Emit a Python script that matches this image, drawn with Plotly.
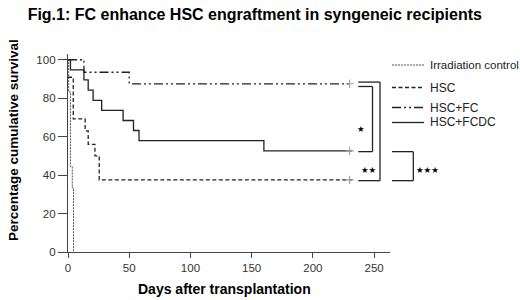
import plotly.graph_objects as go

# ---- data ----
irr_days = [0, 0.5, 2, 3.5, 4.5]
irr_surv = [100, 83.3, 44.4, 33.3, 0]

hsc_days = [0, 4.3, 14, 16.5, 22, 25.5, 232]
hsc_surv = [90.9, 69.2, 63.0, 56.0, 50.0, 37.5, 37.5]

fc_days = [0, 13, 50, 232]
fc_surv = [100, 93.5, 87.5, 87.5]

fcdc_days = [0, 2, 13, 16.5, 20.5, 27.5, 45, 53.5, 58, 160, 232]
fcdc_surv = [100, 94.7, 89.5, 84.2, 78.9, 73.7, 68.4, 63.2, 57.9, 52.6, 52.6]

censor_day = 230
x_ticks = [0, 50, 100, 150, 200, 250]
y_ticks = [0, 20, 40, 60, 80, 100]

series_names = ["Irradiation control", "HSC", "HSC+FC", "HSC+FCDC"]
significance = ["*", "**", "***"]

FONT = "Liberation Sans, Arial, sans-serif"
INK = "#222222"
styles = [
    dict(color="#555555", width=1, dash="2px,1px"),
    dict(color=INK, width=1.3, dash="4px,2.5px"),
    dict(color=INK, width=1.3, dash="9px,3px,2px,3px,2px,3px"),
    dict(color=INK, width=1.3),
]

W, H = 520, 300
ML, MR, MT, MB = 68, 130, 54, 48
PW = W - ML - MR
PH = H - MT - MB


def px(p):
    return (p - ML) / PW


def py(p):
    return (H - MB - p) / PH


fig = go.Figure()
for (d, s), name, st in zip([(irr_days, irr_surv), (hsc_days, hsc_surv),
                             (fc_days, fc_surv), (fcdc_days, fcdc_surv)],
                            series_names, styles):
    fig.add_trace(go.Scatter(x=d, y=s, mode="lines", line_shape="hv", name=name,
                             line=st, showlegend=False))

fig.add_trace(go.Scatter(x=[censor_day] * 3, y=[fc_surv[-1], fcdc_surv[-1], hsc_surv[-1]],
                         mode="markers", showlegend=False, hoverinfo="skip",
                         marker=dict(symbol="cross-thin", size=6,
                                     line=dict(color="#a0a0a0", width=1.1))))

# ---- manual legend ----
leg_y = [65, 87.5, 107.5, 122.5]
for name, st, yy in zip(series_names, styles, leg_y):
    fig.add_shape(type="line", xref="paper", yref="paper",
                  x0=px(392), x1=px(424), y0=py(yy), y1=py(yy), line=st)
    fig.add_annotation(text=name, xref="paper", yref="paper", x=px(428), y=py(yy),
                       xanchor="left", yanchor="middle", showarrow=False,
                       font=dict(family=FONT, size=12 if name != series_names[0] else 11.5,
                                 color=INK))

# ---- significance brackets (paper x, data y) ----
fc_end, fcdc_end, hsc_end = fc_surv[-1], fcdc_surv[-1], hsc_surv[-1]
brackets = [
    (px(358.3), px(372.5), fc_end - 1.4, fcdc_end - 0.4),
    (px(358.3), px(380), fc_end + 0.9, hsc_end - 0.4),
    (px(392), px(413.3), fcdc_end - 0.4, hsc_end - 0.4),
]
for x0, x1, ytop, ybot in brackets:
    for (a, b, c, d) in [(x0, ytop, x1, ytop), (x1, ytop, x1, ybot), (x0, ybot, x1, ybot)]:
        fig.add_shape(type="line", xref="paper", yref="y", x0=a, y0=b, x1=c, y1=d,
                      line=dict(color=INK, width=1.3))

star_pos = [(361, 128.5), (369, 169.5), (428, 169.5)]
for sig, (sx, sy) in zip(significance, star_pos):
    fig.add_annotation(text="★" * len(sig), xref="paper", yref="paper",
                       x=px(sx), y=py(sy), showarrow=False,
                       font=dict(family="DejaVu Sans", size=8.5, color="#000"),
                       xanchor="center", yanchor="middle")

# ---- axis titles as annotations ----
fig.add_annotation(text="<b>Days after transplantation</b>", xref="paper", yref="paper",
                   x=px(224), y=py(289), showarrow=False, xanchor="center", yanchor="middle",
                   font=dict(family=FONT, size=14, color="#000"))
fig.add_annotation(text="<b>Percentage cumulative survival</b>", xref="paper", yref="paper",
                   x=px(13), y=py(140), showarrow=False, xanchor="center", yanchor="middle",
                   textangle=-90, font=dict(family=FONT, size=13.5, color="#000"))

fig.update_layout(
    width=W, height=H,
    margin=dict(l=ML, r=MR, t=MT, b=MB),
    paper_bgcolor="white", plot_bgcolor="white",
    font=dict(family=FONT, color=INK),
    title=dict(text="<b>Fig.1: FC enhance HSC engraftment in syngeneic recipients</b>",
               x=0.49, xanchor="center", y=1 - 14 / H, yanchor="middle",
               font=dict(family=FONT, size=16, color="#000")),
    showlegend=False,
    xaxis=dict(range=[0, 263], tickvals=x_ticks, showgrid=False, zeroline=False,
               automargin=False,
               showline=True, linecolor="#444", linewidth=1.3,
               ticks="outside", ticklen=5, tickcolor="#444",
               tickfont=dict(family=FONT, size=11.5, color="#333")),
    yaxis=dict(range=[0, 103], tickvals=y_ticks, showgrid=False, zeroline=False,
               automargin=False,
               showline=True, linecolor="#444", linewidth=1.3,
               ticks="outside", ticklen=9, tickcolor="#444",
               tickfont=dict(family=FONT, size=11.5, color="#333")),
)

fig.write_html("out.html", config={"displayModeBar": False},
               post_script="document.body.style.margin='0';document.body.style.padding='0';")
